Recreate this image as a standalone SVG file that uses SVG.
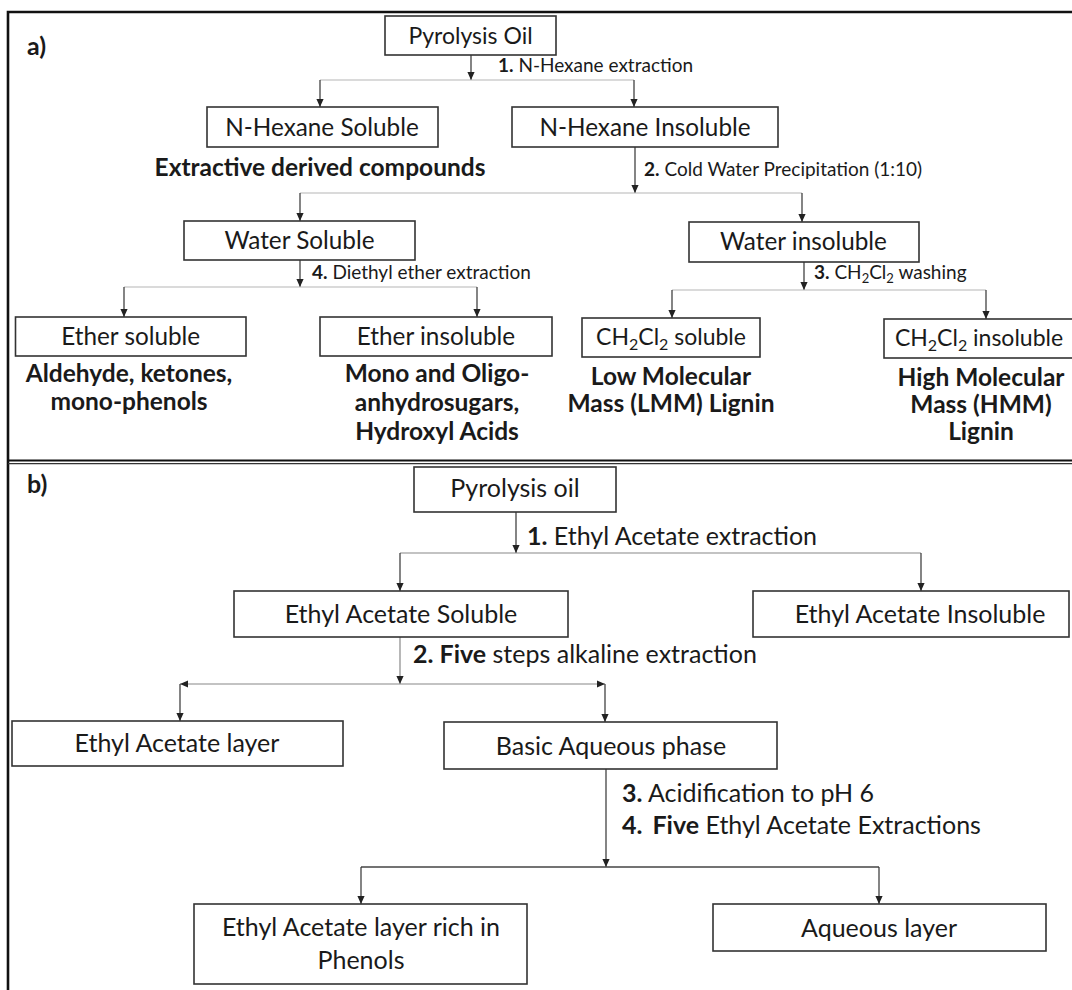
<svg xmlns="http://www.w3.org/2000/svg" width="1072" height="990" viewBox="0 0 1072 990">
<style>
text{font-family:Lato,"Liberation Sans",sans-serif;fill:#1a1a1a}
.n{font-size:24.3px;text-anchor:middle}
.nc{font-size:23px;text-anchor:middle}
.nb{font-size:24.5px;font-weight:700;text-anchor:middle}
.s{font-size:19px}
.m{font-size:25px;text-anchor:middle}
.ml{font-size:25px}
.lab{font-size:25px;font-weight:700}
.box{fill:#fff;stroke:#333;stroke-width:1.6}
.v{stroke:#333;stroke-width:1.2;fill:none}
.h{stroke:#b5b5b5;stroke-width:1.2;fill:none}
.hd{stroke:#444;stroke-width:1.3;fill:none}
.b{font-weight:700}
</style>
<defs>
<marker id="ah" viewBox="0 0 10 10" refX="10" refY="5" markerWidth="8" markerHeight="8" markerUnits="userSpaceOnUse" orient="auto-start-reverse">
<path d="M0,0.5 L10,5 L0,9.5 z" fill="#222"/>
</marker>
</defs>
<rect width="1072" height="990" fill="#fff"/>
<g id="frame">
<path d="M8,990 V12 H1072" fill="none" stroke="#111" stroke-width="2.6"/>
<line x1="8" y1="460.5" x2="1072" y2="460.5" stroke="#111" stroke-width="2"/>
<line x1="8" y1="463.6" x2="1072" y2="463.6" stroke="#333" stroke-width="1.4"/>
<text x="27" y="55" class="lab">a)</text>
<text x="27" y="493" class="lab">b)</text>
</g>
<g id="connectors">
<line class="v" x1="471" y1="55" x2="471" y2="80" marker-end="url(#ah)"/>
<line class="h" x1="320" y1="80" x2="634" y2="80"/>
<line class="v" x1="320" y1="80" x2="320" y2="107" marker-end="url(#ah)"/>
<line class="v" x1="634" y1="80" x2="634" y2="107" marker-end="url(#ah)"/>
<line class="v" x1="635" y1="147" x2="635" y2="193" marker-end="url(#ah)"/>
<line class="h" x1="300" y1="193" x2="802" y2="193"/>
<line class="v" x1="300" y1="193" x2="300" y2="221" marker-end="url(#ah)"/>
<line class="v" x1="802" y1="193" x2="802" y2="222" marker-end="url(#ah)"/>
<line class="v" x1="300" y1="260" x2="300" y2="287" marker-end="url(#ah)"/>
<line class="h" x1="124" y1="287" x2="477" y2="287"/>
<line class="v" x1="124" y1="287" x2="124" y2="317" marker-end="url(#ah)"/>
<line class="v" x1="477" y1="287" x2="477" y2="317" marker-end="url(#ah)"/>
<line class="v" x1="804" y1="262" x2="804" y2="290" marker-end="url(#ah)"/>
<line class="h" x1="672" y1="290" x2="986" y2="290"/>
<line class="v" x1="672" y1="290" x2="672" y2="318" marker-end="url(#ah)"/>
<line class="v" x1="986" y1="290" x2="986" y2="319" marker-end="url(#ah)"/>
<text x="498" y="72" class="s"><tspan class="b">1.</tspan> N-Hexane extraction</text>
<text x="644" y="176" class="s"><tspan class="b">2.</tspan> Cold Water Precipitation (1:10)</text>
<text x="312" y="279" class="s"><tspan class="b">4.</tspan> Diethyl ether extraction</text>
<text x="814" y="279" class="s"><tspan class="b">3.</tspan> CH<tspan font-size="13" dy="4">2</tspan><tspan dy="-4">Cl</tspan><tspan font-size="13" dy="4">2</tspan><tspan dy="-4"> washing</tspan></text>
<line class="v" x1="516" y1="512" x2="516" y2="553" marker-end="url(#ah)"/>
<line class="h" x1="400" y1="553" x2="921" y2="553" style="stroke:#888"/>
<line class="v" x1="400" y1="553" x2="400" y2="591" marker-end="url(#ah)"/>
<line class="v" x1="921" y1="553" x2="921" y2="591" marker-end="url(#ah)"/>
<line class="v" x1="400" y1="637" x2="400" y2="684" style="stroke:#888" marker-end="url(#ah)"/>
<line class="h" x1="180" y1="684" x2="605" y2="684" style="stroke:#888" marker-start="url(#ah)" marker-end="url(#ah)"/>
<line class="v" x1="180" y1="684" x2="180" y2="721" marker-end="url(#ah)"/>
<line class="v" x1="605" y1="684" x2="605" y2="722" marker-end="url(#ah)"/>
<line class="v" x1="606" y1="769" x2="606" y2="867" marker-end="url(#ah)"/>
<line class="hd" x1="361" y1="867" x2="879" y2="867"/>
<line class="v" x1="361" y1="867" x2="361" y2="904" marker-end="url(#ah)"/>
<line class="v" x1="879" y1="867" x2="879" y2="904" marker-end="url(#ah)"/>
<text x="527" y="545" class="ml"><tspan class="b">1.</tspan> Ethyl Acetate extraction</text>
<text x="413" y="663" class="ml"><tspan class="b">2. Five</tspan> steps alkaline extraction</text>
<text x="622" y="802" class="ml"><tspan class="b">3.</tspan> Acidification to pH 6</text>
<text x="622" y="834" class="ml"><tspan class="b">4.</tspan><tspan class="b" dx="10">Five</tspan> Ethyl Acetate Extractions</text>
</g>
<g id="a-pyrolysis-oil"><rect class="box" x="385" y="16" width="171" height="39"/><text x="470.5" y="44" class="nc">Pyrolysis Oil</text></g>
<g id="a-nhexane-soluble"><rect class="box" x="207" y="107" width="231" height="40"/><text x="322" y="135.5" class="n">N-Hexane Soluble</text><text x="320" y="176" class="nb">Extractive derived compounds</text></g>
<g id="a-nhexane-insoluble"><rect class="box" x="512" y="107" width="266" height="40"/><text x="645" y="135.5" class="n">N-Hexane Insoluble</text></g>
<g id="a-water-soluble"><rect class="box" x="184" y="221" width="231" height="39"/><text x="299.5" y="248.5" class="n">Water Soluble</text></g>
<g id="a-water-insoluble"><rect class="box" x="689" y="222" width="230" height="40"/><text x="803.5" y="250" class="n">Water insoluble</text></g>
<g id="a-ether-soluble"><rect class="box" x="15.5" y="317" width="230.5" height="39"/><text x="130.7" y="344.5" class="n">Ether soluble</text><text x="129" y="382" class="nb">Aldehyde, ketones,</text><text x="129" y="410" class="nb">mono-phenols</text></g>
<g id="a-ether-insoluble"><rect class="box" x="320" y="317" width="232" height="39"/><text x="436" y="344.5" class="n">Ether insoluble</text><text x="437" y="382" class="nb">Mono and Oligo-</text><text x="437" y="411" class="nb">anhydrosugars,</text><text x="437" y="440" class="nb">Hydroxyl Acids</text></g>
<g id="a-ch2cl2-soluble"><rect class="box" x="582" y="318" width="178" height="39"/><text x="671" y="345" class="nc">CH<tspan font-size="16" dy="5">2</tspan><tspan dy="-5">Cl</tspan><tspan font-size="16" dy="5">2</tspan><tspan dy="-5"> soluble</tspan></text><text x="671" y="385" class="nb">Low Molecular</text><text x="671" y="412" class="nb">Mass (LMM) Lignin</text></g>
<g id="a-ch2cl2-insoluble"><rect class="box" x="884" y="319" width="204" height="39"/><text x="979" y="346" class="nc">CH<tspan font-size="16" dy="5">2</tspan><tspan dy="-5">Cl</tspan><tspan font-size="16" dy="5">2</tspan><tspan dy="-5"> insoluble</tspan></text><text x="981" y="386" class="nb">High Molecular</text><text x="981" y="413" class="nb">Mass (HMM)</text><text x="981" y="440" class="nb">Lignin</text></g>
<g id="b-pyrolysis-oil"><rect class="box" x="414" y="467" width="202" height="45"/><text x="515" y="497" class="m">Pyrolysis oil</text></g>
<g id="b-ea-soluble"><rect class="box" x="234" y="591" width="334" height="46"/><text x="401" y="623" class="m">Ethyl Acetate Soluble</text></g>
<g id="b-ea-insoluble"><rect class="box" x="753" y="591" width="316" height="46"/><text x="920" y="623" class="m">Ethyl Acetate Insoluble</text></g>
<g id="b-ea-layer"><rect class="box" x="12" y="721" width="331" height="45"/><text x="177" y="752" class="m">Ethyl Acetate layer</text></g>
<g id="b-basic-aqueous"><rect class="box" x="444" y="722" width="333" height="47"/><text x="611" y="755" class="m">Basic Aqueous phase</text></g>
<g id="b-ea-rich"><rect class="box" x="194" y="904" width="333" height="80"/><text x="361" y="936" class="m">Ethyl Acetate layer rich in</text><text x="361" y="969" class="m">Phenols</text></g>
<g id="b-aqueous-layer"><rect class="box" x="713" y="904" width="333" height="47"/><text x="879" y="937" class="m">Aqueous layer</text></g>
</svg>
